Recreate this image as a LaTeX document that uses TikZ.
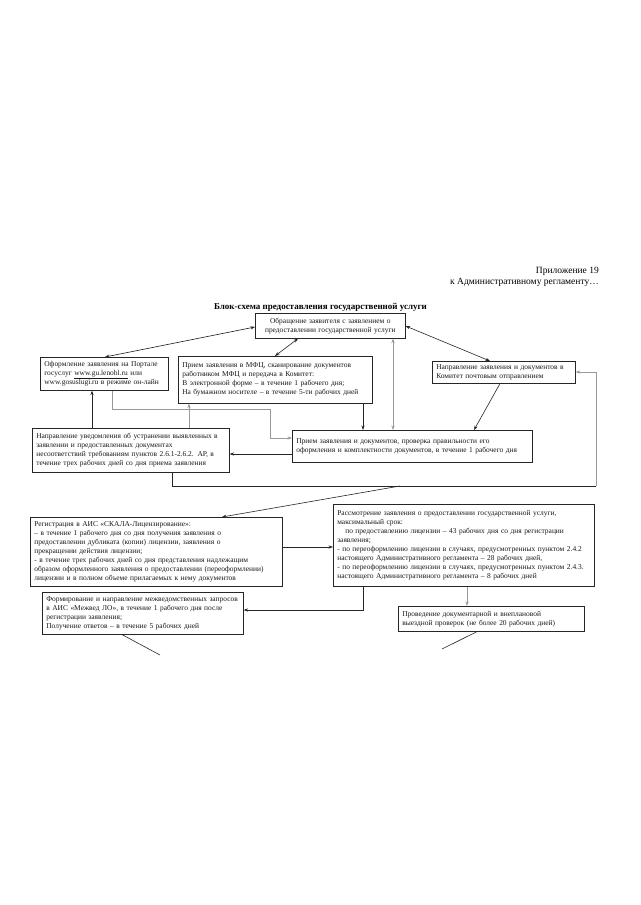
\documentclass[tikz,border=0pt]{standalone}
\usepackage{fontspec}
\setmainfont{Liberation Serif}
\usetikzlibrary{arrows.meta}
\newcommand{\fsz}{\fontsize{7.45}{9}\selectfont}
\begin{document}
\begin{tikzpicture}[x=1pt,y=-1pt,
  box/.style={draw=black!85, line width=0.6pt, fill=white, inner xsep=4pt, inner ysep=1pt, anchor=north west, font=\fsz, align=left, text=black!90},
  ln/.style={draw=black!85, line width=0.6pt},
  gln/.style={draw=black!40, line width=0.9pt},
  arr/.style={-{Stealth[length=4.5pt,width=3.2pt]}},
  darr/.style={{Stealth[length=4.5pt,width=3.2pt]}-{Stealth[length=4.5pt,width=3.2pt]}}]
\fill[white] (0,0) rectangle (640,905);
\useasboundingbox (0,0) rectangle (640,905);

\node[anchor=north east, align=right, font=\fontsize{9.5}{11.5}\selectfont, inner sep=0pt] (hdr) at (599,267) {Приложение 19\\к Административному регламенту…};
\node[font=\bfseries\fontsize{9}{11}\selectfont, inner sep=0pt] (title) at (320.5,307) {Блок-схема предоставления государственной услуги};

\node[box, align=center, text width=142pt, minimum width=150pt, minimum height=25pt] (A) at (255,313)
  {Обращение заявителя с заявлением о\\предоставлении государственной услуги};
\node[box, text width=120pt, minimum width=128pt, minimum height=33pt] (B) at (40,357)
  {Оформление заявления на Портале\\госуслуг \underline{www.gu.lenobl.ru} или\\www.gosuslugi.ru в режиме он-лайн};
\node[box, text width=186pt, minimum width=194pt, minimum height=47pt] (C) at (178,356)
  {Прием заявления в МФЦ, сканирование документов\\работником МФЦ и передача в Комитет:\\В электронной форме – в течение 1 рабочего дня;\\На бумажном носителе – в течение 5-ти рабочих дней};
\node[box, text width=135pt, minimum width=143pt, minimum height=22pt] (D) at (432,361)
  {Направление заявления и документов в\\Комитет почтовым отправлением};
\node[box, text width=189pt, minimum width=197pt, minimum height=44pt] (E) at (32,428)
  {Направление уведомления об устранении выявленных в\\заявлении и предоставленных документах\\несоответствий требованиям пунктов 2.6.1-2.6.2. АР, в\\течение трех рабочих дней со дня приема заявления};
\node[box, text width=232pt, minimum width=240pt, minimum height=32pt] (F) at (292,430)
  {Прием заявления и документов, проверка правильности его\\оформления и комплектности документов, в течение 1 рабочего дня};
\node[box, text width=244pt, minimum width=252pt, minimum height=69pt] (G) at (30,517)
  {Регистрация в АИС «СКАЛА-Лицензирование»:\\– в течение 1 рабочего дня со дня получения заявления о\\предоставлении дубликата (копии) лицензии, заявления о\\прекращении действия лицензии;\\- в течение трех рабочих дней со дня представления надлежащим\\образом оформленного заявления о предоставлении (переоформлении)\\лицензии и в полном объеме прилагаемых к нему документов};
\node[box, text width=253pt, minimum width=261pt, minimum height=82pt] (H) at (333,504)
  {Рассмотрение заявления о предоставлении государственной услуги,\\максимальный срок:\\\hspace*{8pt}по предоставлению лицензии – 43 рабочих дня со дня регистрации\\заявления;\\- по переоформлению лицензии в случаях, предусмотренных пунктом 2.4.2\\настоящего Административного регламента – 28 рабочих дней,\\- по переоформлению лицензии в случаях, предусмотренных пунктом 2.4.3.\\настоящего Административного регламента – 8 рабочих дней};
\node[box, text width=193pt, minimum width=201pt, minimum height=42pt] (I) at (42,592)
  {Формирование и направление межведомственных запросов\\в АИС «Межвед ЛО», в течение 1 рабочего дня после\\регистрации заявления;\\Получение ответов – в течение 5 рабочих дней};
\node[box, text width=178pt, minimum width=186pt, minimum height=25pt] (J) at (398,606)
  {Проведение документарной и внеплановой\\выездной проверок  (не более 20 рабочих дней)};

\draw[ln,darr] (B.north -| 105,0) -- (A.west |- 0,327);
\draw[ln,darr] (A.south -| 298,0) -- (C.north -| 275,0);
\draw[ln,darr] (A.east |- 0,326) -- (D.north -| 490,0);
\draw[gln,darr] (A.south -| 393,0) -- (F.north -| 393,0);
\draw[ln,arr] (C.south -| 363,0) -- (F.north -| 363,0);
\draw[ln,arr] (D.south -| 500,0) -- (F.north -| 474,0);
\draw[ln,arr] (E.north -| 92,0) -- (B.south -| 92,0);
\draw[gln,arr] (E.north -| 189,0) -- (C.south -| 189,0);
\draw[gln,arr] (B.south -| 112,0) |- (270,409) |- (F.west |- 0,438);
\draw[ln,arr] (F.west |- 0,454) -- (E.east |- 0,454);
\coordinate (loopc) at (596,486);
\draw[ln] (E.south -| 172,0) |- (loopc);
\draw[gln,arr] (loopc) |- (D.east |- 0,372);
\coordinate (gstart) at (400,486);
\draw[ln,arr] (gstart) -- (G.north -| 222,0);
\draw[ln,arr] (G.east |- 0,547) -- (H.west |- 0,547);
\draw[ln,arr] (H.south -| 363,0) |- (I.east |- 0,610);
\draw[gln,arr] (H.south -| 467,0) -- (J.north -| 467,0);
\coordinate (iend) at (160,655);
\draw[ln] (I.south -| 122,0) -- (iend);
\coordinate (jend) at (442,649);
\draw[ln] (J.south -| 477,0) -- (jend);
\end{tikzpicture}
\end{document}
